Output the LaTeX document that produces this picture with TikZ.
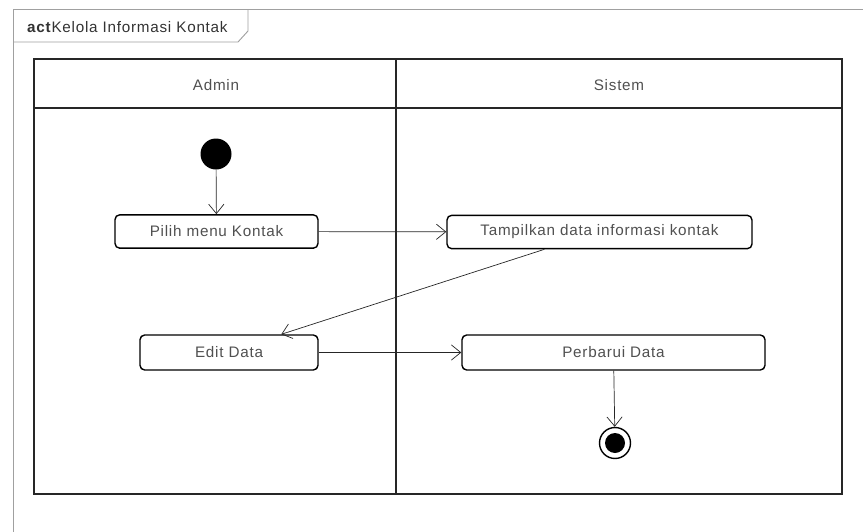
\documentclass[tikz,border=0pt]{standalone}
\usepackage{fontspec}
\setmainfont{Liberation Sans}
\newfontfamily\umlfont[LetterSpace=5]{Liberation Sans}
\usepackage{tikz}
\usetikzlibrary{shapes,decorations}
\usetikzlibrary{arrows.meta, positioning, calc}

\definecolor{txtgray}{HTML}{505050}
\definecolor{framegray}{HTML}{A0A0A0}

\tikzset{
  activity/.style={draw, line width=1.2pt, rounded corners=4pt, fill=white, text=txtgray,
    minimum height=1cm, font=\umlfont\fontsize{13}{15}\selectfont},
  flow/.style={-{Straight Barb[length=8pt,width=13pt]}, line width=0.6pt, black!85},
  lane/.style={line width=1.4pt, black!85},
  lanehead/.style={text=txtgray, font=\umlfont\fontsize{13}{15}\selectfont},
}

\begin{document}
\begin{tikzpicture}[x=0.03cm, y=-0.03cm]
\useasboundingbox (0,0) rectangle (863,532);

% Outer frame with act tab
\draw[framegray, line width=0.8pt] (13,532) -- (13,9) -- (863,9);
\draw[framegray, line width=0.8pt] (13,42) -- (238,42) -- (248,31) -- (248,9);
\node[anchor=west, inner sep=0pt, text=black!80, font=\umlfont\fontsize{13}{15}\selectfont] (title) at (27,27)
  {\textbf{act}Kelola Informasi Kontak};

% Swimlanes
\draw[lane] (34,59) rectangle (842,494);  % Outer box of lanes
\draw[lane] (34,108) -- (842,108);        % Header line
\draw[lane] (396,59) -- (396,494);        % Lane split

% Lane headers
\node[lanehead] (admin) at (216,85) {Admin};
\node[lanehead] (sistem) at (619,85) {Sistem};

% Initial and final nodes
\node[circle, fill=black, minimum size=0.93cm, inner sep=0pt] (start) at (216,154) {};
\node[circle, draw, line width=1.2pt, minimum size=0.93cm, inner sep=0pt] (end) at (615,443) {};
\fill[black] (end) circle (0.3cm);

% Activities
\node[activity, minimum width=6.09cm] (pilih) at (216.5,231.5) {Pilih menu Kontak};
\node[activity, minimum width=9.15cm] (tampil) at (599.5,232) {Tampilkan data informasi kontak};
\node[activity, minimum width=5.34cm, minimum height=1.05cm] (edit) at (229,352.5) {Edit Data};
\node[activity, minimum width=9.09cm, minimum height=1.05cm] (perbarui) at (613.5,352.5) {Perbarui Data};

% Control flows
\draw[flow] (start) -- (pilih);
\draw[flow] (pilih) -- (tampil);
\draw[flow] ($(tampil.south west)+(98,0)$) -- ($(edit.north west)+(142,0)$);
\draw[flow] (edit) -- (perbarui);
\draw[flow] (perbarui) -- (end);

\end{tikzpicture}
\end{document}
